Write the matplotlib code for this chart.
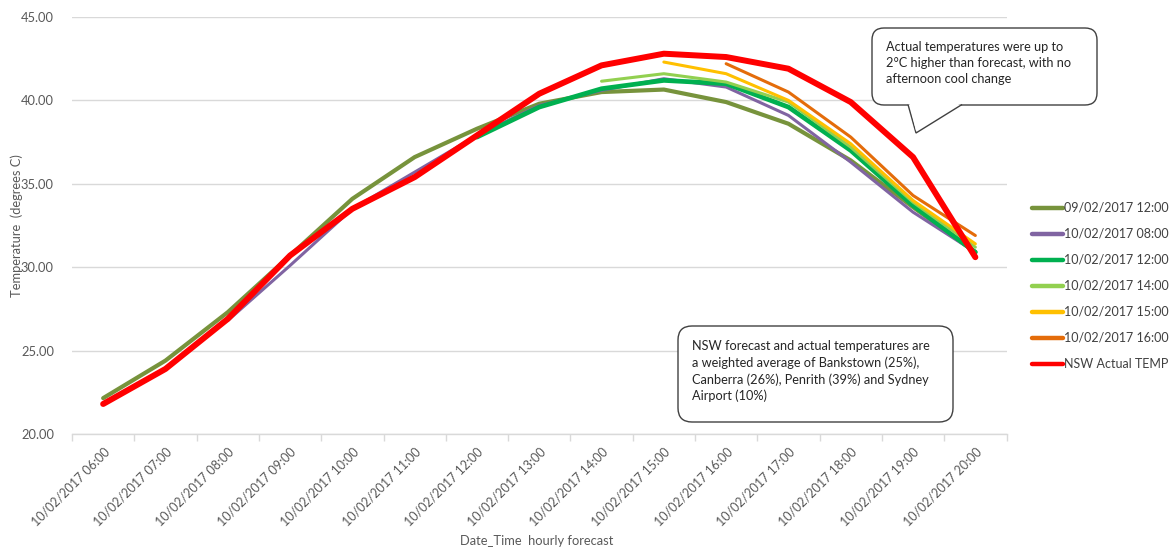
import numpy as np
import matplotlib
matplotlib.use("Agg")
import matplotlib.pyplot as plt
from matplotlib.patches import FancyBboxPatch, Polygon

plt.rcParams['font.family'] = ['Lato', 'DejaVu Sans']

nan = np.nan
hours = ["06:00", "07:00", "08:00", "09:00", "10:00", "11:00", "12:00", "13:00",
         "14:00", "15:00", "16:00", "17:00", "18:00", "19:00", "20:00"]
tick_labels = ["10/02/2017 " + h for h in hours]

fc_0902_1200 = [22.15, 24.4, 27.3, 30.7, 34.1, 36.6, 38.3, 39.8, 40.5, 40.65, 39.9, 38.6, 36.4, 33.6, 30.9]
fc_1002_0800 = [nan, nan, 26.8, 30.1, 33.5, 35.7, 37.9, 39.7, 40.6, 41.3, 40.8, 39.1, 36.3, 33.3, 30.9]
fc_1002_1200 = [nan, nan, nan, nan, nan, nan, 37.8, 39.6, 40.7, 41.2, 41.0, 39.6, 37.0, 33.7, 30.9]
fc_1002_1400 = [nan, nan, nan, nan, nan, nan, nan, nan, 41.15, 41.6, 41.1, 39.9, 37.2, 33.9, 31.2]
fc_1002_1500 = [nan, nan, nan, nan, nan, nan, nan, nan, nan, 42.3, 41.6, 40.0, 37.4, 34.0, 31.4]
fc_1002_1600 = [nan, nan, nan, nan, nan, nan, nan, nan, nan, nan, 42.2, 40.5, 37.8, 34.3, 31.9]
nsw_actual = [21.8, 23.9, 26.9, 30.7, 33.5, 35.4, 37.9, 40.4, 42.1, 42.8, 42.6, 41.9, 39.9, 36.6, 30.6]

series = [
    ("09/02/2017 12:00", fc_0902_1200, "#77933C", 3.0),
    ("10/02/2017 08:00", fc_1002_0800, "#8064A2", 2.2),
    ("10/02/2017 12:00", fc_1002_1200, "#00B050", 3.4),
    ("10/02/2017 14:00", fc_1002_1400, "#92D050", 2.2),
    ("10/02/2017 15:00", fc_1002_1500, "#FFC000", 2.2),
    ("10/02/2017 16:00", fc_1002_1600, "#E46C0A", 2.2),
    ("NSW Actual TEMP", nsw_actual, "#FF0000", 4.3),
]

W, H = 1171, 551
fig = plt.figure(figsize=(W / 100, H / 100), dpi=100)
ax = fig.add_axes([72 / W, 1 - 434 / H, (1006.5 - 72) / W, (434 - 17) / H])

x = np.arange(len(hours))
for label, vals, color, lw in series:
    ax.plot(x, vals, color=color, lw=lw, label=label, solid_capstyle='round',
            solid_joinstyle='round')

ax.set_xlim(-0.5, len(hours) - 0.5)
ax.set_ylim(20, 45)
ax.set_yticks(np.arange(20, 45.1, 5))
ax.set_yticklabels([f"{v:.2f}" for v in np.arange(20, 45.1, 5)])
ax.set_xticks(x)
ax.set_xticklabels(tick_labels, rotation=45, ha='right', rotation_mode='anchor')
ax.set_xticks(np.arange(-0.5, len(hours)), minor=True)

ax.grid(axis='y', color='#D9D9D9', lw=1.0)
ax.set_axisbelow(True)
for s in ['top', 'right', 'left']:
    ax.spines[s].set_visible(False)
ax.spines['bottom'].set_color('#D9D9D9')
ax.spines['bottom'].set_linewidth(1.0)

ax.tick_params(axis='y', length=0, labelsize=9.3, labelcolor='#595959', pad=13)
ax.tick_params(axis='x', which='major', length=0, labelsize=9, labelcolor='#595959', pad=8)
ax.tick_params(axis='x', which='minor', length=5, color='#D9D9D9', width=1.0)

ax.set_ylabel("Temperature  (degrees C)", fontsize=9.3, color='#595959')
ax.yaxis.set_label_coords((23 - 72) / (1006.5 - 72), 0.5)
fig.text(537 / W, 1 - 541 / H, "Date_Time  hourly forecast", fontsize=9.3,
         color='#595959', ha='center', va='center')

leg = fig.legend(loc='upper left', bbox_to_anchor=(1027 / W, 1 - 197 / H),
                 frameon=False, fontsize=9, handlelength=2.5, handletextpad=0.1,
                 labelspacing=1.12, borderaxespad=0)
for t in leg.get_texts():
    t.set_color('#404040')
for h in leg.get_lines():
    h.set_linewidth(3.2)


def px(xp, yp):
    return (xp / W, 1 - yp / H)


# Upper callout with pointer
x0, y0, x1, y1 = 872, 28, 1097, 105
box = FancyBboxPatch(px(x0, y1), (x1 - x0) / W, (y1 - y0) / H,
                     boxstyle=f"round,pad=0,rounding_size={12 / W}",
                     transform=fig.transFigure, fc='white', ec='#404040', lw=1.0,
                     mutation_aspect=W / H, zorder=5)
fig.patches.append(box)
tail = Polygon([px(908, y1 - 0.5), px(916, 133), px(962, y1 - 0.5)], closed=False,
               transform=fig.transFigure, fc='white', ec='#404040', lw=1.0, zorder=6)
fig.patches.append(tail)
cover = Polygon([px(909.5, y1 - 1.2), px(916, 131), px(960, y1 - 1.2)], closed=True,
                transform=fig.transFigure, fc='white', ec='none', zorder=7)
fig.patches.append(cover)
fig.text(886 / W, 1 - 41 / H,
         "Actual temperatures were up to\n2\u00b0C higher than forecast, with no\nafternoon cool change",
         fontsize=9.2, color='#262626', ha='left', va='top', linespacing=1.4, zorder=8)

# Lower note box
x0, y0, x1, y1 = 678, 326, 953, 422
box2 = FancyBboxPatch(px(x0, y1), (x1 - x0) / W, (y1 - y0) / H,
                      boxstyle=f"round,pad=0,rounding_size={14 / W}",
                      transform=fig.transFigure, fc='white', ec='#404040', lw=1.0,
                      mutation_aspect=W / H, zorder=5)
fig.patches.append(box2)
fig.text(692 / W, 1 - 340 / H,
         "NSW forecast and actual temperatures are\na weighted average of Bankstown (25%),\n"
         "Canberra (26%), Penrith (39%) and Sydney\nAirport (10%)",
         fontsize=9.2, color='#262626', ha='left', va='top', linespacing=1.4, zorder=8)

fig.savefig("out.png", dpi=100)
